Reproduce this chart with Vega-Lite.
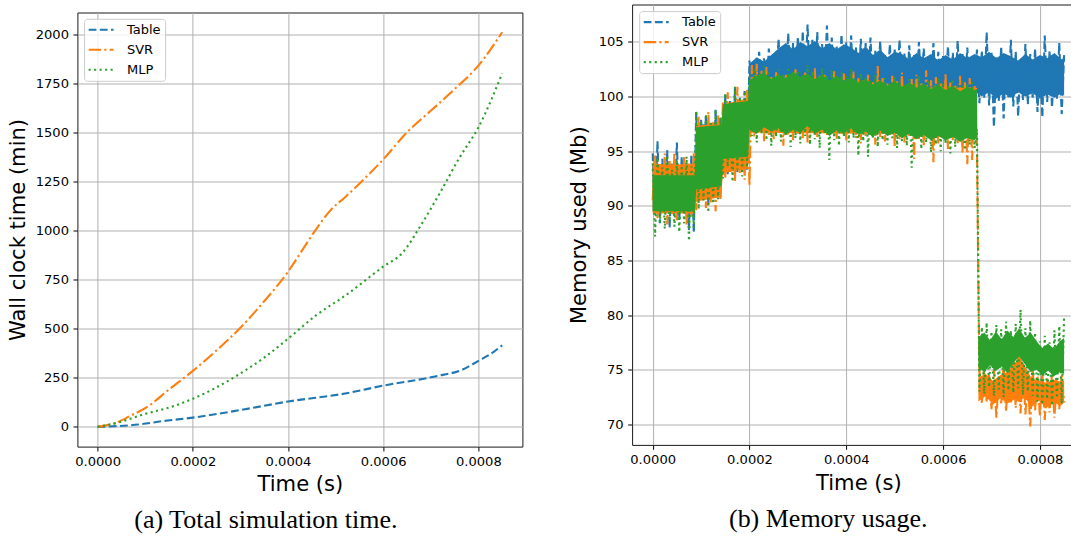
{
  "$schema": "https://vega.github.io/schema/vega-lite/v6.json",
  "background": "white",
  "padding": {"left": 6.4, "top": 3.5, "right": 0, "bottom": 0},
  "config": {
    "font": "DejaVu Sans",
    "view": {"stroke": "#1a1a1a", "strokeWidth": 1},
    "axis": {
      "grid": true, "gridColor": "#b0b0b0", "gridWidth": 1, "domain": false,
      "tickColor": "#000000", "tickSize": 4.4, "tickWidth": 1,
      "labelFont": "DejaVu Sans", "labelFontSize": 13.1, "labelColor": "#000000", "labelPadding": 4.5, "labelFlush": false,
      "titleFont": "DejaVu Sans", "titleFontSize": 21.1, "titleFontWeight": "normal", "titleColor": "#000000"
    }
  },
  "datasets": {
    "wall": [
      {"s":"Table","t":0,"v":0},{"s":"Table","t":0.0000855,"v":12},{"s":"Table","t":0.000139,"v":30},{"s":"Table","t":0.0002,"v":47},{"s":"Table","t":0.000303,"v":87},{"s":"Table","t":0.0004,"v":129},{"s":"Table","t":0.00052,"v":170},{"s":"Table","t":0.0006,"v":210},{"s":"Table","t":0.000709,"v":257},{"s":"Table","t":0.000767,"v":292},{"s":"Table","t":0.0008,"v":336},{"s":"Table","t":0.000825,"v":370},{"s":"Table","t":0.00085,"v":415},
      {"s":"SVR","t":0,"v":0},{"s":"SVR","t":0.00004,"v":22},{"s":"SVR","t":0.00007,"v":58},{"s":"SVR","t":0.0001,"v":95},{"s":"SVR","t":0.00015,"v":190},{"s":"SVR","t":0.0002,"v":285},{"s":"SVR","t":0.00025,"v":390},{"s":"SVR","t":0.0003,"v":505},{"s":"SVR","t":0.00035,"v":640},{"s":"SVR","t":0.0004,"v":790},{"s":"SVR","t":0.00043,"v":900},{"s":"SVR","t":0.00046,"v":1010},{"s":"SVR","t":0.00049,"v":1105},{"s":"SVR","t":0.00052,"v":1170},{"s":"SVR","t":0.00056,"v":1262},{"s":"SVR","t":0.0006,"v":1362},{"s":"SVR","t":0.00065,"v":1500},{"s":"SVR","t":0.0007,"v":1610},{"s":"SVR","t":0.00075,"v":1720},{"s":"SVR","t":0.0008,"v":1840},{"s":"SVR","t":0.00085,"v":2010},
      {"s":"MLP","t":0,"v":0},{"s":"MLP","t":0.00004,"v":20},{"s":"MLP","t":0.0001,"v":66},{"s":"MLP","t":0.00016,"v":106},{"s":"MLP","t":0.0002,"v":143},{"s":"MLP","t":0.00029,"v":257},{"s":"MLP","t":0.00035,"v":353},{"s":"MLP","t":0.0004,"v":449},{"s":"MLP","t":0.00046,"v":570},{"s":"MLP","t":0.00052,"v":668},{"s":"MLP","t":0.0006,"v":816},{"s":"MLP","t":0.00064,"v":885},{"s":"MLP","t":0.00068,"v":1030},{"s":"MLP","t":0.00072,"v":1195},{"s":"MLP","t":0.00076,"v":1370},{"s":"MLP","t":0.0008,"v":1525},{"s":"MLP","t":0.00085,"v":1800}
    ],
    "tableCore": [
      {"t":0,"lo":89.5,"hi":93.5},{"t":0.000087,"lo":89.5,"hi":93.5},{"t":0.00009,"lo":91.0,"hi":97.4},{"t":0.000142,"lo":91.4,"hi":97.6},{"t":0.000145,"lo":93.5,"hi":99.3},{"t":0.000197,"lo":93.8,"hi":99.6},
      {"t":0.000200,"lo":100.5,"hi":103.0},{"t":0.000215,"lo":100.5,"hi":103.6},{"t":0.000230,"lo":100.5,"hi":103.2},{"t":0.000245,"lo":100.5,"hi":103.8},{"t":0.000260,"lo":100.5,"hi":104.4},{"t":0.000275,"lo":100.5,"hi":104.9},{"t":0.000290,"lo":100.5,"hi":104.3},{"t":0.000305,"lo":100.5,"hi":105.0},{"t":0.000320,"lo":100.5,"hi":104.6},{"t":0.000335,"lo":100.5,"hi":105.1},
      {"t":0.000350,"lo":100.5,"hi":104.4},{"t":0.000365,"lo":100.5,"hi":104.9},{"t":0.000380,"lo":100.5,"hi":104.3},{"t":0.000395,"lo":100.5,"hi":104.8},{"t":0.000410,"lo":100.5,"hi":104.5},{"t":0.000425,"lo":100.5,"hi":104.0},{"t":0.000440,"lo":100.5,"hi":104.6},{"t":0.000455,"lo":100.5,"hi":103.8},{"t":0.000470,"lo":100.5,"hi":104.3},{"t":0.000485,"lo":100.5,"hi":103.6},
      {"t":0.000500,"lo":100.5,"hi":104.1},{"t":0.000515,"lo":100.5,"hi":103.9},{"t":0.000530,"lo":100.5,"hi":103.4},{"t":0.000545,"lo":100.5,"hi":104.0},{"t":0.000560,"lo":100.5,"hi":103.5},{"t":0.000575,"lo":100.5,"hi":103.9},{"t":0.000590,"lo":100.5,"hi":103.3},{"t":0.000605,"lo":100.5,"hi":103.8},{"t":0.000620,"lo":100.5,"hi":103.4},{"t":0.000635,"lo":100.5,"hi":104.0},
      {"t":0.000650,"lo":100.5,"hi":103.5},{"t":0.000665,"lo":100.5,"hi":103.9},{"t":0.000680,"lo":100.0,"hi":103.6},{"t":0.000695,"lo":100.4,"hi":104.1},{"t":0.000710,"lo":99.8,"hi":103.5},{"t":0.000725,"lo":100.3,"hi":104.0},{"t":0.000740,"lo":99.9,"hi":103.7},{"t":0.000755,"lo":100.4,"hi":103.3},{"t":0.000770,"lo":100.0,"hi":103.9},{"t":0.000785,"lo":100.3,"hi":103.4},
      {"t":0.000800,"lo":99.8,"hi":103.8},{"t":0.000815,"lo":100.2,"hi":103.5},{"t":0.000830,"lo":99.9,"hi":104.0},{"t":0.000845,"lo":100.3,"hi":103.4},{"t":0.000850,"lo":100.1,"hi":103.6}
    ],
    "svrCore": [
      {"t":0,"lo":89.3,"hi":93.8},{"t":0.000087,"lo":89.3,"hi":93.8},{"t":0.00009,"lo":90.4,"hi":97.3},{"t":0.000142,"lo":90.8,"hi":97.6},{"t":0.000145,"lo":93.0,"hi":99.3},{"t":0.000197,"lo":93.4,"hi":99.8},{"t":0.0002,"lo":96.7,"hi":101.0},{"t":0.00067,"lo":96.5,"hi":100.8},
      {"t":0.000673,"lo":72.1,"hi":74.3},{"t":0.000688,"lo":72.6,"hi":74.6},{"t":0.000703,"lo":71.8,"hi":74.0},{"t":0.000718,"lo":72.4,"hi":74.5},{"t":0.000733,"lo":71.9,"hi":74.8},{"t":0.000748,"lo":72.3,"hi":75.6},{"t":0.000758,"lo":72.0,"hi":76.2},{"t":0.000768,"lo":72.5,"hi":75.4},{"t":0.000783,"lo":71.6,"hi":74.2},{"t":0.000798,"lo":72.2,"hi":74.0},
      {"t":0.000813,"lo":71.5,"hi":73.8},{"t":0.000828,"lo":72.0,"hi":74.1},{"t":0.000843,"lo":71.7,"hi":73.9},{"t":0.000850,"lo":72.0,"hi":74.0}
    ],
    "mlpCore": [
      {"t":0,"lo":89.5,"hi":92.8},{"t":0.000087,"lo":89.5,"hi":92.8},{"t":0.00009,"lo":91.5,"hi":97.2},{"t":0.000142,"lo":91.8,"hi":97.4},{"t":0.000145,"lo":94.3,"hi":99.3},{"t":0.000197,"lo":94.5,"hi":99.6},
      {"t":0.000200,"lo":97.0,"hi":101.5},{"t":0.000215,"lo":96.6,"hi":101.9},{"t":0.000230,"lo":97.2,"hi":102.2},{"t":0.000245,"lo":96.8,"hi":101.6},{"t":0.000260,"lo":97.1,"hi":102.0},{"t":0.000275,"lo":96.5,"hi":101.7},{"t":0.000290,"lo":97.0,"hi":102.3},{"t":0.000305,"lo":96.7,"hi":101.8},{"t":0.000320,"lo":97.3,"hi":102.1},{"t":0.000335,"lo":96.6,"hi":101.6},
      {"t":0.000350,"lo":97.0,"hi":102.0},{"t":0.000365,"lo":96.4,"hi":101.5},{"t":0.000380,"lo":96.9,"hi":101.9},{"t":0.000395,"lo":96.6,"hi":101.4},{"t":0.000410,"lo":97.1,"hi":101.8},{"t":0.000425,"lo":96.5,"hi":101.3},{"t":0.000440,"lo":96.8,"hi":101.6},{"t":0.000455,"lo":96.3,"hi":101.1},{"t":0.000470,"lo":96.9,"hi":101.5},{"t":0.000485,"lo":96.4,"hi":101.0},
      {"t":0.000500,"lo":96.7,"hi":101.4},{"t":0.000515,"lo":96.2,"hi":100.9},{"t":0.000530,"lo":96.6,"hi":101.3},{"t":0.000545,"lo":96.1,"hi":100.8},{"t":0.000560,"lo":96.5,"hi":101.2},{"t":0.000575,"lo":96.0,"hi":100.7},{"t":0.000590,"lo":96.4,"hi":101.1},{"t":0.000605,"lo":96.0,"hi":100.6},{"t":0.000620,"lo":96.3,"hi":101.0},{"t":0.000635,"lo":95.9,"hi":100.5},
      {"t":0.000650,"lo":96.2,"hi":100.9},{"t":0.000665,"lo":96.0,"hi":100.6},{"t":0.000670,"lo":96.3,"hi":100.7},
      {"t":0.000673,"lo":75.2,"hi":77.9},{"t":0.000685,"lo":74.8,"hi":78.4},{"t":0.000697,"lo":75.4,"hi":77.7},{"t":0.000709,"lo":74.9,"hi":78.5},{"t":0.000721,"lo":75.3,"hi":77.8},{"t":0.000733,"lo":74.7,"hi":78.6},{"t":0.000745,"lo":75.6,"hi":78.0},{"t":0.000757,"lo":76.2,"hi":78.8},{"t":0.000769,"lo":75.5,"hi":77.9},{"t":0.000781,"lo":74.8,"hi":78.4},
      {"t":0.000793,"lo":75.0,"hi":77.6},{"t":0.000805,"lo":74.5,"hi":77.0},{"t":0.000817,"lo":74.9,"hi":77.4},{"t":0.000829,"lo":74.4,"hi":76.9},{"t":0.000841,"lo":74.8,"hi":77.6},{"t":0.000850,"lo":74.6,"hi":77.9}
    ],
    "tableMem": [
      {"t":0,"v":94.8},{"t":0.000005,"v":89.2},{"t":0.000010,"v":95.9},{"t":0.000015,"v":88.4},{"t":0.000020,"v":94.3},{"t":0.000025,"v":89.6},{"t":0.000030,"v":95.1},{"t":0.000035,"v":88.0},{"t":0.000040,"v":94.0},{"t":0.000045,"v":89.1},
      {"t":0.000050,"v":95.8},{"t":0.000055,"v":88.7},{"t":0.000060,"v":94.5},{"t":0.000065,"v":89.4},{"t":0.000070,"v":93.9},{"t":0.000075,"v":87.8},{"t":0.000080,"v":94.7},{"t":0.000085,"v":87.5},{"t":0.000090,"v":98.6},{"t":0.000095,"v":90.4},
      {"t":0.000100,"v":97.9},{"t":0.000105,"v":91.0},{"t":0.000110,"v":98.3},{"t":0.000115,"v":90.1},{"t":0.000120,"v":97.6},{"t":0.000125,"v":90.8},{"t":0.000130,"v":98.8},{"t":0.000135,"v":91.2},{"t":0.000140,"v":98.1},{"t":0.000145,"v":93.4},
      {"t":0.000150,"v":100.2},{"t":0.000155,"v":92.9},{"t":0.000160,"v":99.6},{"t":0.000165,"v":93.8},{"t":0.000170,"v":100.8},{"t":0.000175,"v":93.1},{"t":0.000180,"v":99.9},{"t":0.000185,"v":94.0},{"t":0.000190,"v":100.5},{"t":0.000195,"v":93.3},
      {"t":0.000200,"v":103.3},{"t":0.000205,"v":100.6},{"t":0.000210,"v":102.8},{"t":0.000215,"v":100.2},{"t":0.000220,"v":104.1},{"t":0.000225,"v":100.8},{"t":0.000230,"v":103.5},{"t":0.000235,"v":100.3},{"t":0.000240,"v":104.4},{"t":0.000245,"v":100.9},
      {"t":0.000250,"v":103.9},{"t":0.000255,"v":100.4},{"t":0.000260,"v":105.3},{"t":0.000265,"v":100.7},{"t":0.000270,"v":104.6},{"t":0.000275,"v":100.2},{"t":0.000280,"v":105.8},{"t":0.000285,"v":100.9},{"t":0.000290,"v":104.9},{"t":0.000295,"v":100.5},
      {"t":0.000300,"v":105.5},{"t":0.000305,"v":100.1},{"t":0.000310,"v":106.0},{"t":0.000315,"v":100.8},{"t":0.000320,"v":106.6},{"t":0.000325,"v":100.4},{"t":0.000330,"v":105.2},{"t":0.000335,"v":100.6},{"t":0.000340,"v":105.9},{"t":0.000345,"v":100.2},
      {"t":0.000350,"v":104.8},{"t":0.000355,"v":100.9},{"t":0.000360,"v":106.5},{"t":0.000365,"v":100.3},{"t":0.000370,"v":105.4},{"t":0.000375,"v":100.7},{"t":0.000380,"v":104.7},{"t":0.000385,"v":100.1},{"t":0.000390,"v":105.7},{"t":0.000395,"v":100.8},
      {"t":0.000400,"v":105.0},{"t":0.000405,"v":100.4},{"t":0.000410,"v":105.6},{"t":0.000415,"v":100.6},{"t":0.000420,"v":104.5},{"t":0.000425,"v":100.2},{"t":0.000430,"v":105.3},{"t":0.000435,"v":100.9},{"t":0.000440,"v":104.9},{"t":0.000445,"v":100.5},
      {"t":0.000450,"v":105.4},{"t":0.000455,"v":100.3},{"t":0.000460,"v":104.2},{"t":0.000465,"v":100.8},{"t":0.000470,"v":105.1},{"t":0.000475,"v":100.4},{"t":0.000480,"v":103.9},{"t":0.000485,"v":100.7},{"t":0.000490,"v":104.8},{"t":0.000495,"v":100.2},
      {"t":0.000500,"v":104.3},{"t":0.000505,"v":100.9},{"t":0.000510,"v":105.2},{"t":0.000515,"v":100.5},{"t":0.000520,"v":104.0},{"t":0.000525,"v":100.1},{"t":0.000530,"v":104.7},{"t":0.000535,"v":100.6},{"t":0.000540,"v":103.8},{"t":0.000545,"v":100.3},
      {"t":0.000550,"v":105.0},{"t":0.000555,"v":100.8},{"t":0.000560,"v":104.4},{"t":0.000565,"v":100.2},{"t":0.000570,"v":103.6},{"t":0.000575,"v":100.7},{"t":0.000580,"v":104.9},{"t":0.000585,"v":100.4},{"t":0.000590,"v":104.1},{"t":0.000595,"v":100.9},
      {"t":0.000600,"v":103.7},{"t":0.000605,"v":100.3},{"t":0.000610,"v":104.6},{"t":0.000615,"v":100.6},{"t":0.000620,"v":104.0},{"t":0.000625,"v":100.1},{"t":0.000630,"v":105.1},{"t":0.000635,"v":100.5},{"t":0.000640,"v":103.9},{"t":0.000645,"v":100.8},
      {"t":0.000650,"v":104.5},{"t":0.000655,"v":100.2},{"t":0.000660,"v":103.7},{"t":0.000665,"v":100.6},{"t":0.000670,"v":104.3},{"t":0.000675,"v":99.4},{"t":0.000680,"v":104.2},{"t":0.000685,"v":99.9},{"t":0.000690,"v":105.9},{"t":0.000695,"v":99.2},
      {"t":0.000700,"v":104.0},{"t":0.000705,"v":97.2},{"t":0.000710,"v":103.6},{"t":0.000715,"v":99.6},{"t":0.000720,"v":104.6},{"t":0.000725,"v":98.0},{"t":0.000730,"v":103.8},{"t":0.000735,"v":99.8},{"t":0.000740,"v":105.2},{"t":0.000745,"v":99.1},
      {"t":0.000750,"v":104.1},{"t":0.000755,"v":98.2},{"t":0.000760,"v":103.5},{"t":0.000765,"v":99.7},{"t":0.000770,"v":104.8},{"t":0.000775,"v":99.3},{"t":0.000780,"v":103.9},{"t":0.000785,"v":99.9},{"t":0.000790,"v":104.4},{"t":0.000795,"v":98.6},
      {"t":0.000800,"v":103.7},{"t":0.000805,"v":98.1},{"t":0.000810,"v":105.6},{"t":0.000815,"v":99.5},{"t":0.000820,"v":104.2},{"t":0.000825,"v":99.0},{"t":0.000830,"v":103.6},{"t":0.000835,"v":99.8},{"t":0.000840,"v":104.9},{"t":0.000845,"v":98.4},
      {"t":0.000850,"v":103.8}
    ],
    "svrMem": [
      {"t":0,"v":90.5},{"t":0.000005,"v":94.6},{"t":0.000010,"v":88.9},{"t":0.000015,"v":93.9},{"t":0.000020,"v":89.5},{"t":0.000025,"v":94.8},{"t":0.000030,"v":88.3},{"t":0.000035,"v":94.1},{"t":0.000040,"v":89.2},{"t":0.000045,"v":94.9},
      {"t":0.000050,"v":88.6},{"t":0.000055,"v":93.8},{"t":0.000060,"v":89.4},{"t":0.000065,"v":94.5},{"t":0.000070,"v":88.2},{"t":0.000075,"v":94.0},{"t":0.000080,"v":89.0},{"t":0.000085,"v":94.8},{"t":0.000090,"v":89.6},{"t":0.000095,"v":98.2},
      {"t":0.000100,"v":90.5},{"t":0.000105,"v":97.4},{"t":0.000110,"v":89.8},{"t":0.000115,"v":98.6},{"t":0.000120,"v":90.3},{"t":0.000125,"v":97.7},{"t":0.000130,"v":89.5},{"t":0.000135,"v":98.4},{"t":0.000140,"v":90.6},{"t":0.000145,"v":99.5},
      {"t":0.000150,"v":92.6},{"t":0.000155,"v":100.4},{"t":0.000160,"v":93.1},{"t":0.000165,"v":99.2},{"t":0.000170,"v":92.2},{"t":0.000175,"v":100.9},{"t":0.000180,"v":93.0},{"t":0.000185,"v":99.7},{"t":0.000190,"v":92.4},{"t":0.000195,"v":100.6},
      {"t":0.000200,"v":91.8},{"t":0.000205,"v":102.9},{"t":0.000210,"v":96.3},{"t":0.000215,"v":103.0},{"t":0.000220,"v":96.7},{"t":0.000225,"v":102.4},{"t":0.000230,"v":95.9},{"t":0.000235,"v":102.7},{"t":0.000240,"v":96.5},{"t":0.000245,"v":101.8},
      {"t":0.000250,"v":96.1},{"t":0.000255,"v":102.3},{"t":0.000260,"v":96.8},{"t":0.000265,"v":101.6},{"t":0.000270,"v":95.5},{"t":0.000275,"v":102.1},{"t":0.000280,"v":96.4},{"t":0.000285,"v":101.4},{"t":0.000290,"v":96.0},{"t":0.000295,"v":102.5},
      {"t":0.000300,"v":96.6},{"t":0.000305,"v":101.7},{"t":0.000310,"v":96.2},{"t":0.000315,"v":102.2},{"t":0.000320,"v":95.8},{"t":0.000325,"v":101.5},{"t":0.000330,"v":96.7},{"t":0.000335,"v":102.6},{"t":0.000340,"v":96.3},{"t":0.000345,"v":101.9},
      {"t":0.000350,"v":97.2},{"t":0.000355,"v":102.0},{"t":0.000360,"v":96.5},{"t":0.000365,"v":101.3},{"t":0.000370,"v":96.9},{"t":0.000375,"v":102.4},{"t":0.000380,"v":96.1},{"t":0.000385,"v":101.6},{"t":0.000390,"v":96.6},{"t":0.000395,"v":102.1},
      {"t":0.000400,"v":96.0},{"t":0.000405,"v":101.4},{"t":0.000410,"v":96.8},{"t":0.000415,"v":102.3},{"t":0.000420,"v":96.2},{"t":0.000425,"v":101.8},{"t":0.000430,"v":95.7},{"t":0.000435,"v":101.5},{"t":0.000440,"v":96.4},{"t":0.000445,"v":102.0},
      {"t":0.000450,"v":96.9},{"t":0.000455,"v":101.3},{"t":0.000460,"v":95.6},{"t":0.000465,"v":102.8},{"t":0.000470,"v":96.3},{"t":0.000475,"v":101.7},{"t":0.000480,"v":95.9},{"t":0.000485,"v":101.2},{"t":0.000490,"v":96.5},{"t":0.000495,"v":101.9},
      {"t":0.000500,"v":95.4},{"t":0.000505,"v":101.4},{"t":0.000510,"v":96.1},{"t":0.000515,"v":102.2},{"t":0.000520,"v":95.8},{"t":0.000525,"v":101.1},{"t":0.000530,"v":96.4},{"t":0.000535,"v":101.6},{"t":0.000540,"v":94.3},{"t":0.000545,"v":102.0},
      {"t":0.000550,"v":96.0},{"t":0.000555,"v":101.3},{"t":0.000560,"v":95.5},{"t":0.000565,"v":102.4},{"t":0.000570,"v":96.2},{"t":0.000575,"v":101.5},{"t":0.000580,"v":94.0},{"t":0.000585,"v":101.8},{"t":0.000590,"v":95.7},{"t":0.000595,"v":101.2},
      {"t":0.000600,"v":96.3},{"t":0.000605,"v":102.1},{"t":0.000610,"v":95.2},{"t":0.000615,"v":101.4},{"t":0.000620,"v":96.0},{"t":0.000625,"v":101.0},{"t":0.000630,"v":95.6},{"t":0.000635,"v":101.9},{"t":0.000640,"v":94.8},{"t":0.000645,"v":101.3},
      {"t":0.000650,"v":93.8},{"t":0.000655,"v":101.7},{"t":0.000660,"v":94.2},{"t":0.000665,"v":101.0},{"t":0.000670,"v":95.0},{"t":0.000675,"v":74.8},{"t":0.000680,"v":71.9},{"t":0.000685,"v":75.3},{"t":0.000690,"v":72.1},{"t":0.000695,"v":74.6},
      {"t":0.000700,"v":71.4},{"t":0.000705,"v":75.1},{"t":0.000710,"v":70.6},{"t":0.000715,"v":74.4},{"t":0.000720,"v":71.8},{"t":0.000725,"v":75.4},{"t":0.000730,"v":71.2},{"t":0.000735,"v":74.9},{"t":0.000740,"v":72.0},{"t":0.000745,"v":75.9},
      {"t":0.000750,"v":71.5},{"t":0.000755,"v":76.5},{"t":0.000760,"v":71.0},{"t":0.000765,"v":75.6},{"t":0.000770,"v":70.9},{"t":0.000775,"v":74.3},{"t":0.000780,"v":69.8},{"t":0.000785,"v":75.2},{"t":0.000790,"v":71.3},{"t":0.000795,"v":74.5},
      {"t":0.000800,"v":70.7},{"t":0.000805,"v":74.9},{"t":0.000810,"v":70.4},{"t":0.000815,"v":74.2},{"t":0.000820,"v":71.1},{"t":0.000825,"v":74.7},{"t":0.000830,"v":70.6},{"t":0.000835,"v":74.1},{"t":0.000840,"v":71.4},{"t":0.000845,"v":74.6},
      {"t":0.000850,"v":72.0}
    ],
    "mlpMem": [
      {"t":0,"v":93.9},{"t":0.000005,"v":87.2},{"t":0.000010,"v":94.4},{"t":0.000015,"v":88.5},{"t":0.000020,"v":93.5},{"t":0.000025,"v":87.9},{"t":0.000030,"v":94.6},{"t":0.000035,"v":88.6},{"t":0.000040,"v":93.3},{"t":0.000045,"v":88.1},
      {"t":0.000050,"v":94.2},{"t":0.000055,"v":87.6},{"t":0.000060,"v":93.7},{"t":0.000065,"v":88.4},{"t":0.000070,"v":94.5},{"t":0.000075,"v":86.8},{"t":0.000080,"v":93.6},{"t":0.000085,"v":88.0},{"t":0.000090,"v":98.7},{"t":0.000095,"v":89.7},
      {"t":0.000100,"v":97.8},{"t":0.000105,"v":90.5},{"t":0.000110,"v":98.4},{"t":0.000115,"v":89.4},{"t":0.000120,"v":97.6},{"t":0.000125,"v":90.2},{"t":0.000130,"v":98.8},{"t":0.000135,"v":90.6},{"t":0.000140,"v":98.1},{"t":0.000145,"v":92.5},
      {"t":0.000150,"v":100.3},{"t":0.000155,"v":93.6},{"t":0.000160,"v":99.4},{"t":0.000165,"v":92.2},{"t":0.000170,"v":100.9},{"t":0.000175,"v":93.3},{"t":0.000180,"v":99.8},{"t":0.000185,"v":92.7},{"t":0.000190,"v":100.5},{"t":0.000195,"v":93.5},
      {"t":0.000200,"v":101.9},{"t":0.000205,"v":96.4},{"t":0.000210,"v":102.6},{"t":0.000215,"v":95.8},{"t":0.000220,"v":101.7},{"t":0.000225,"v":96.6},{"t":0.000230,"v":102.8},{"t":0.000235,"v":96.0},{"t":0.000240,"v":102.2},{"t":0.000245,"v":95.5},
      {"t":0.000250,"v":101.8},{"t":0.000255,"v":96.3},{"t":0.000260,"v":102.5},{"t":0.000265,"v":95.9},{"t":0.000270,"v":102.0},{"t":0.000275,"v":96.5},{"t":0.000280,"v":102.7},{"t":0.000285,"v":95.4},{"t":0.000290,"v":101.9},{"t":0.000295,"v":96.2},
      {"t":0.000300,"v":102.4},{"t":0.000305,"v":95.7},{"t":0.000310,"v":102.1},{"t":0.000315,"v":96.4},{"t":0.000320,"v":102.9},{"t":0.000325,"v":95.6},{"t":0.000330,"v":102.3},{"t":0.000335,"v":96.1},{"t":0.000340,"v":101.8},{"t":0.000345,"v":95.3},
      {"t":0.000350,"v":102.6},{"t":0.000355,"v":96.6},{"t":0.000360,"v":102.0},{"t":0.000365,"v":94.2},{"t":0.000370,"v":102.4},{"t":0.000375,"v":96.0},{"t":0.000380,"v":101.7},{"t":0.000385,"v":95.5},{"t":0.000390,"v":102.2},{"t":0.000395,"v":96.3},
      {"t":0.000400,"v":101.9},{"t":0.000405,"v":95.8},{"t":0.000410,"v":102.5},{"t":0.000415,"v":96.2},{"t":0.000420,"v":101.6},{"t":0.000425,"v":94.6},{"t":0.000430,"v":102.1},{"t":0.000435,"v":95.9},{"t":0.000440,"v":101.8},{"t":0.000445,"v":94.5},
      {"t":0.000450,"v":101.5},{"t":0.000455,"v":96.1},{"t":0.000460,"v":102.0},{"t":0.000465,"v":95.4},{"t":0.000470,"v":101.3},{"t":0.000475,"v":96.0},{"t":0.000480,"v":101.7},{"t":0.000485,"v":95.6},{"t":0.000490,"v":101.2},{"t":0.000495,"v":96.2},
      {"t":0.000500,"v":101.8},{"t":0.000505,"v":95.3},{"t":0.000510,"v":101.4},{"t":0.000515,"v":95.9},{"t":0.000520,"v":101.1},{"t":0.000525,"v":95.5},{"t":0.000530,"v":101.6},{"t":0.000535,"v":93.5},{"t":0.000540,"v":101.3},{"t":0.000545,"v":96.1},
      {"t":0.000550,"v":101.9},{"t":0.000555,"v":95.2},{"t":0.000560,"v":101.2},{"t":0.000565,"v":95.8},{"t":0.000570,"v":101.5},{"t":0.000575,"v":94.9},{"t":0.000580,"v":101.0},{"t":0.000585,"v":95.6},{"t":0.000590,"v":101.7},{"t":0.000595,"v":95.0},
      {"t":0.000600,"v":101.3},{"t":0.000605,"v":95.7},{"t":0.000610,"v":101.1},{"t":0.000615,"v":94.8},{"t":0.000620,"v":101.6},{"t":0.000625,"v":95.4},{"t":0.000630,"v":101.0},{"t":0.000635,"v":95.9},{"t":0.000640,"v":101.4},{"t":0.000645,"v":95.1},
      {"t":0.000650,"v":101.2},{"t":0.000655,"v":95.6},{"t":0.000660,"v":101.5},{"t":0.000665,"v":95.3},{"t":0.000670,"v":97.0},{"t":0.000675,"v":73.0},{"t":0.000680,"v":78.9},{"t":0.000685,"v":72.8},{"t":0.000690,"v":79.3},{"t":0.000695,"v":73.4},
      {"t":0.000700,"v":78.5},{"t":0.000705,"v":72.6},{"t":0.000710,"v":79.1},{"t":0.000715,"v":73.2},{"t":0.000720,"v":78.7},{"t":0.000725,"v":72.5},{"t":0.000730,"v":79.4},{"t":0.000735,"v":73.1},{"t":0.000740,"v":78.6},{"t":0.000745,"v":72.9},
      {"t":0.000750,"v":79.2},{"t":0.000755,"v":73.3},{"t":0.000760,"v":80.5},{"t":0.000765,"v":72.7},{"t":0.000770,"v":78.8},{"t":0.000775,"v":73.0},{"t":0.000780,"v":79.5},{"t":0.000785,"v":72.6},{"t":0.000790,"v":78.4},{"t":0.000795,"v":72.1},
      {"t":0.000800,"v":77.6},{"t":0.000805,"v":71.8},{"t":0.000810,"v":78.1},{"t":0.000815,"v":72.3},{"t":0.000820,"v":77.5},{"t":0.000825,"v":71.7},{"t":0.000830,"v":78.6},{"t":0.000835,"v":72.4},{"t":0.000840,"v":79.0},{"t":0.000845,"v":71.9},
      {"t":0.000850,"v":79.9}
    ]
  },
  "spacing": 44.7,
  "resolve": {"scale": {"color": "independent", "strokeDash": "independent"}},
  "hconcat": [
    {
      "bounds": "flush",
      "spacing": 0,
      "vconcat": [
        {
          "width": 445, "height": 7.5,
          "view": {"stroke": null},
          "data": {"values": []},
          "mark": {"type": "rule"},
          "encoding": {}
        },
        {
          "width": 445, "height": 434.1,
          "title": {"text": "(a) Total simulation time.", "orient": "bottom", "anchor": "middle", "frame": "group", "font": "Liberation Serif", "fontSize": 26, "fontWeight": "normal", "color": "#000000", "baseline": "alphabetic", "offset": 33, "dx": -34},
          "data": {"name": "wall"},
          "mark": {"type": "line", "strokeWidth": 2.1, "interpolate": "monotone"},
          "encoding": {
            "x": {"field": "t", "type": "quantitative",
              "scale": {"domain": [-0.0000425, 0.0008925], "nice": false, "zero": false},
              "axis": {"values": [0, 0.0002, 0.0004, 0.0006, 0.0008], "format": ".4f", "title": "Time (s)", "titleY": 44.4, "titleBaseline": "alphabetic"}},
            "y": {"field": "v", "type": "quantitative",
              "scale": {"domain": [-100.5, 2110.5], "nice": false, "zero": false},
              "axis": {"values": [0, 250, 500, 750, 1000, 1250, 1500, 1750, 2000], "format": "d", "title": "Wall clock time (min)", "titleX": -52.8, "titleY": 217, "titleAngle": 270, "titleBaseline": "alphabetic", "titleAlign": "center"}},
            "color": {"field": "s", "type": "nominal",
              "scale": {"domain": ["Table", "SVR", "MLP"], "range": ["#1f77b4", "#ff7f0e", "#2ca02c"]},
              "legend": {"title": null, "orient": "none", "legendX": 6.7, "legendY": 14.3, "symbolType": "stroke", "symbolSize": 625, "symbolStrokeWidth": 2.1, "symbolOffset": -1, "labelFont": "DejaVu Sans", "labelFontSize": 13, "labelColor": "#000000", "labelOffset": 11.9, "clipHeight": 14, "rowPadding": 6, "padding": 4, "strokeColor": "#cccccc", "fillColor": "rgba(255,255,255,0.8)", "cornerRadius": 3}},
            "strokeDash": {"field": "s", "type": "nominal",
              "scale": {"domain": ["Table", "SVR", "MLP"], "range": [[7.8, 3.4], [12.5, 3.2, 2.1, 3.2], [2.1, 3.4]]},
              "legend": {"title": null, "orient": "none", "legendX": 6.7, "legendY": 14.3, "symbolType": "stroke", "symbolSize": 625, "symbolStrokeWidth": 2.1, "symbolOffset": -1, "labelFont": "DejaVu Sans", "labelFontSize": 13, "labelColor": "#000000", "labelOffset": 11.9, "clipHeight": 14, "rowPadding": 6, "padding": 4, "strokeColor": "#cccccc", "fillColor": "rgba(255,255,255,0.8)", "cornerRadius": 3}}
          }
        }
      ]
    },
    {
      "width": 452.6, "height": 440.4,
      "title": {"text": "(b) Memory usage.", "orient": "bottom", "anchor": "middle", "frame": "group", "font": "Liberation Serif", "fontSize": 26, "fontWeight": "normal", "color": "#000000", "baseline": "alphabetic", "offset": 33, "dx": -30.2},
      "encoding": {
        "x": {"field": "t", "type": "quantitative",
          "scale": {"domain": [-0.0000425, 0.0008925], "nice": false, "zero": false},
          "axis": {"values": [0, 0.0002, 0.0004, 0.0006, 0.0008], "format": ".4f", "title": "Time (s)", "titleY": 45.1, "titleBaseline": "alphabetic"}},
        "y": {"field": "v", "type": "quantitative",
          "scale": {"domain": [68.12, 108.43], "nice": false, "zero": false},
          "axis": {"values": [70, 75, 80, 85, 90, 95, 100, 105], "format": "d", "title": "Memory used (Mb)", "titleX": -46.4, "titleY": 220.2, "titleAngle": 270, "titleBaseline": "alphabetic", "titleAlign": "center"}}
      },
      "layer": [
        {
          "data": {"name": "tableCore"},
          "mark": {"type": "area", "color": "#1f77b4", "opacity": 1},
          "encoding": {
            "y": {"field": "lo", "type": "quantitative",
              "scale": {"domain": [68.12, 108.43], "nice": false, "zero": false},
              "axis": {"values": [70, 75, 80, 85, 90, 95, 100, 105], "format": "d", "title": "Memory used (Mb)", "titleX": -46.4, "titleY": 220.2, "titleAngle": 270, "titleBaseline": "alphabetic", "titleAlign": "center"}},
            "y2": {"field": "hi"}
          }
        },
        {
          "data": {"name": "tableMem"},
          "mark": {"type": "line", "strokeWidth": 2.1},
          "encoding": {
            "color": {"datum": "Table", "type": "nominal",
              "scale": {"domain": ["Table", "SVR", "MLP"], "range": ["#1f77b4", "#ff7f0e", "#2ca02c"]},
              "legend": {"title": null, "orient": "none", "legendX": 7.1, "legendY": 6.6, "symbolType": "stroke", "symbolSize": 625, "symbolStrokeWidth": 2.1, "symbolOffset": -1, "labelFont": "DejaVu Sans", "labelFontSize": 13, "labelColor": "#000000", "labelOffset": 11.9, "clipHeight": 14, "rowPadding": 6, "padding": 4, "strokeColor": "#cccccc", "fillColor": "rgba(255,255,255,0.8)", "cornerRadius": 3}},
            "strokeDash": {"datum": "Table", "type": "nominal",
              "scale": {"domain": ["Table", "SVR", "MLP"], "range": [[7.8, 3.4], [12.5, 3.2, 2.1, 3.2], [2.1, 3.4]]},
              "legend": {"title": null, "orient": "none", "legendX": 7.1, "legendY": 6.6, "symbolType": "stroke", "symbolSize": 625, "symbolStrokeWidth": 2.1, "symbolOffset": -1, "labelFont": "DejaVu Sans", "labelFontSize": 13, "labelColor": "#000000", "labelOffset": 11.9, "clipHeight": 14, "rowPadding": 6, "padding": 4, "strokeColor": "#cccccc", "fillColor": "rgba(255,255,255,0.8)", "cornerRadius": 3}}
          }
        },
        {
          "data": {"name": "svrCore"},
          "mark": {"type": "area", "color": "#ff7f0e", "opacity": 1},
          "encoding": {
            "y": {"field": "lo", "type": "quantitative",
              "scale": {"domain": [68.12, 108.43], "nice": false, "zero": false},
              "axis": {"values": [70, 75, 80, 85, 90, 95, 100, 105], "format": "d", "title": "Memory used (Mb)", "titleX": -46.4, "titleY": 220.2, "titleAngle": 270, "titleBaseline": "alphabetic", "titleAlign": "center"}},
            "y2": {"field": "hi"}
          }
        },
        {
          "data": {"name": "svrMem"},
          "mark": {"type": "line", "strokeWidth": 2.1},
          "encoding": {
            "color": {"datum": "SVR", "type": "nominal",
              "scale": {"domain": ["Table", "SVR", "MLP"], "range": ["#1f77b4", "#ff7f0e", "#2ca02c"]},
              "legend": {"title": null, "orient": "none", "legendX": 7.1, "legendY": 6.6, "symbolType": "stroke", "symbolSize": 625, "symbolStrokeWidth": 2.1, "symbolOffset": -1, "labelFont": "DejaVu Sans", "labelFontSize": 13, "labelColor": "#000000", "labelOffset": 11.9, "clipHeight": 14, "rowPadding": 6, "padding": 4, "strokeColor": "#cccccc", "fillColor": "rgba(255,255,255,0.8)", "cornerRadius": 3}},
            "strokeDash": {"datum": "SVR", "type": "nominal",
              "scale": {"domain": ["Table", "SVR", "MLP"], "range": [[7.8, 3.4], [12.5, 3.2, 2.1, 3.2], [2.1, 3.4]]},
              "legend": {"title": null, "orient": "none", "legendX": 7.1, "legendY": 6.6, "symbolType": "stroke", "symbolSize": 625, "symbolStrokeWidth": 2.1, "symbolOffset": -1, "labelFont": "DejaVu Sans", "labelFontSize": 13, "labelColor": "#000000", "labelOffset": 11.9, "clipHeight": 14, "rowPadding": 6, "padding": 4, "strokeColor": "#cccccc", "fillColor": "rgba(255,255,255,0.8)", "cornerRadius": 3}}
          }
        },
        {
          "data": {"name": "mlpCore"},
          "mark": {"type": "area", "color": "#2ca02c", "opacity": 1},
          "encoding": {
            "y": {"field": "lo", "type": "quantitative",
              "scale": {"domain": [68.12, 108.43], "nice": false, "zero": false},
              "axis": {"values": [70, 75, 80, 85, 90, 95, 100, 105], "format": "d", "title": "Memory used (Mb)", "titleX": -46.4, "titleY": 220.2, "titleAngle": 270, "titleBaseline": "alphabetic", "titleAlign": "center"}},
            "y2": {"field": "hi"}
          }
        },
        {
          "data": {"name": "mlpMem"},
          "mark": {"type": "line", "strokeWidth": 2.1},
          "encoding": {
            "color": {"datum": "MLP", "type": "nominal",
              "scale": {"domain": ["Table", "SVR", "MLP"], "range": ["#1f77b4", "#ff7f0e", "#2ca02c"]},
              "legend": {"title": null, "orient": "none", "legendX": 7.1, "legendY": 6.6, "symbolType": "stroke", "symbolSize": 625, "symbolStrokeWidth": 2.1, "symbolOffset": -1, "labelFont": "DejaVu Sans", "labelFontSize": 13, "labelColor": "#000000", "labelOffset": 11.9, "clipHeight": 14, "rowPadding": 6, "padding": 4, "strokeColor": "#cccccc", "fillColor": "rgba(255,255,255,0.8)", "cornerRadius": 3}},
            "strokeDash": {"datum": "MLP", "type": "nominal",
              "scale": {"domain": ["Table", "SVR", "MLP"], "range": [[7.8, 3.4], [12.5, 3.2, 2.1, 3.2], [2.1, 3.4]]},
              "legend": {"title": null, "orient": "none", "legendX": 7.1, "legendY": 6.6, "symbolType": "stroke", "symbolSize": 625, "symbolStrokeWidth": 2.1, "symbolOffset": -1, "labelFont": "DejaVu Sans", "labelFontSize": 13, "labelColor": "#000000", "labelOffset": 11.9, "clipHeight": 14, "rowPadding": 6, "padding": 4, "strokeColor": "#cccccc", "fillColor": "rgba(255,255,255,0.8)", "cornerRadius": 3}}
          }
        }
      ]
    }
  ]
}
